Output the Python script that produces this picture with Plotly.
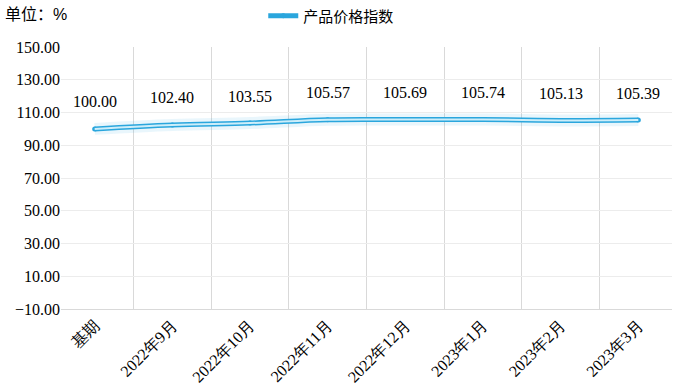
import plotly.graph_objects as go

categories = ["基期", "2022年9月", "2022年10月", "2022年11月", "2022年12月", "2023年1月", "2023年2月", "2023年3月"]
values = [100.00, 102.40, 103.55, 105.57, 105.69, 105.74, 105.13, 105.39]
series_name = "产品价格指数"
y_ticks = [-10, 10, 30, 50, 70, 90, 110, 130, 150]

SERIF = "Liberation Serif"

fig = go.Figure()
# soft shadow
fig.add_trace(go.Scatter(x=categories, y=values, mode="lines", line=dict(color="rgba(41,168,224,0.10)", width=12, shape="spline"),
                         showlegend=False, hoverinfo="skip"))
# outer blue
fig.add_trace(go.Scatter(x=categories, y=values, mode="lines+markers", name=series_name,
                         line=dict(color="#2aa6dd", width=5, shape="spline"),
                         marker=dict(size=5, color="#2aa6dd"), showlegend=True))
# inner light
fig.add_trace(go.Scatter(x=categories, y=values, mode="lines", name=series_name,
                         line=dict(color="#cdeefa", width=2, shape="spline"), showlegend=False,
                         hoverinfo="skip"))

for c, v in zip(categories, values):
    fig.add_annotation(x=c, y=v, text=f"{v:.2f}", showarrow=False, yshift=27,
                       font=dict(family=SERIF, size=16, color="#000"))

fig.add_annotation(xref="paper", yref="paper", x=-58/611, y=1 + 34/262, xanchor="left", yanchor="middle",
                   text="单位：<span style='font-family:Liberation Sans'>%</span>", showarrow=False,
                   font=dict(family="Noto Sans CJK SC", size=16, color="#000"))

fig.update_layout(
    width=683, height=384,
    margin=dict(l=61, r=11, t=47, b=75, autoexpand=False),
    paper_bgcolor="white", plot_bgcolor="white",
    legend=dict(orientation="h", x=0.485, xanchor="center", xref="container", y=1 - 16/384, yref="container",
                yanchor="middle", font=dict(family="Noto Sans CJK SC", size=15, color="#000"), itemwidth=30),
    showlegend=True,
)
fig.update_xaxes(type="category", tickson="boundaries", showgrid=True, gridcolor="#d9d9d9", gridwidth=1,
                 showline=True, linecolor="#d9d9d9", tickangle=-45, ticks="", automargin=False,
                 tickfont=dict(family=SERIF, size=16, color="#000"))
fig.update_yaxes(range=[-10, 150], tickvals=y_ticks, tickformat=".2f", showgrid=True, gridcolor="#ececec",
                 zeroline=False, showline=False, ticks="", automargin=False,
                 tickfont=dict(family=SERIF, size=16, color="#000"))

fig.write_html("out.html", config={"displayModeBar": False},
               post_script="document.body.style.margin='0';document.body.style.overflow='hidden';")
